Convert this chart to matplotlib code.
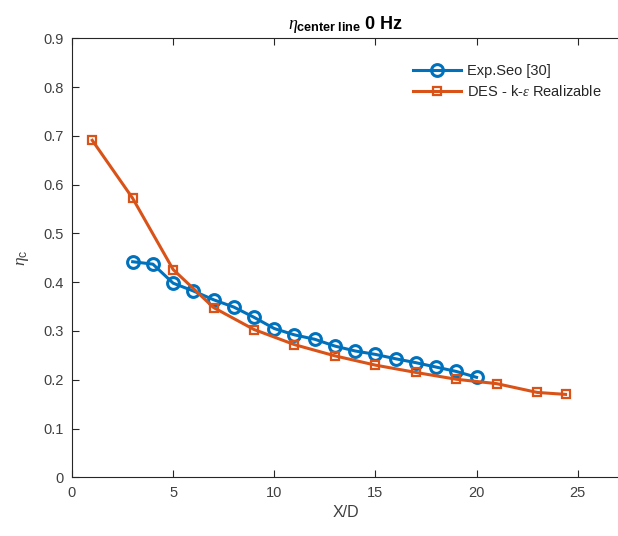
import matplotlib
matplotlib.use("Agg")
import matplotlib.pyplot as plt

plt.rcParams['font.family'] = ['Liberation Sans', 'DejaVu Sans']
plt.rcParams['mathtext.fontset'] = 'custom'
plt.rcParams['mathtext.rm'] = 'Liberation Sans'
plt.rcParams['mathtext.it'] = 'Liberation Serif:italic'
plt.rcParams['mathtext.bf'] = 'Liberation Sans:bold'

# Experimental centre-line efficiency
exp_x = [3, 4, 5, 6, 7, 8, 9, 10, 11, 12, 13, 14, 15, 16, 17, 18, 19, 20]
exp_eta = [0.442, 0.437, 0.398, 0.382, 0.364, 0.349, 0.328, 0.305, 0.292,
           0.283, 0.269, 0.259, 0.252, 0.243, 0.235, 0.226, 0.217, 0.205]

# DES k-epsilon realizable prediction
des_x = [1, 3, 5, 7, 9, 11, 13, 15, 17, 19, 21, 23, 24.4]
des_eta = [0.691, 0.572, 0.426, 0.348, 0.303, 0.272, 0.249, 0.230,
           0.215, 0.201, 0.192, 0.174, 0.170]

x_ticks = [0, 5, 10, 15, 20, 25]
y_ticks = [0, 0.1, 0.2, 0.3, 0.4, 0.5, 0.6, 0.7, 0.8, 0.9]

blue = '#0072BD'
orange = '#D95319'
axis_col = '#262626'

fig = plt.figure(figsize=(6.18, 5.36), dpi=100)
ax = fig.add_axes([0.1165, 0.1095, 0.887, 0.819])

ax.plot(exp_x, exp_eta, '-o', color=blue, lw=2.2, ms=8.5, mew=2.2,
        mfc='none', label='Exp.Seo [30]')
ax.plot(des_x, des_eta, '-s', color=orange, lw=2.2, ms=6, mew=1.6,
        mfc='none', label=r'DES - k-$\epsilon$ Realizable')

ax.set_xlim(0, 27.1)
ax.set_ylim(0, 0.9)
ax.set_xticks(x_ticks)
ax.set_yticks(y_ticks)
ax.set_yticklabels(['0', '0.1', '0.2', '0.3', '0.4', '0.5', '0.6', '0.7', '0.8', '0.9'])
ax.tick_params(direction='in', length=5, width=0.8, colors=axis_col,
               labelcolor='#404040', labelsize=10.5, top=True, right=False,
               pad=6)
for s in ax.spines.values():
    s.set_color(axis_col)
    s.set_linewidth(0.8)
ax.spines['right'].set_visible(False)

ax.set_xlabel('X/D', fontsize=11.5, color='#404040', labelpad=4)
ax.set_ylabel(r'$\eta_\mathrm{c}$', fontsize=12.5, color='#404040', labelpad=9)
ax.set_title(r'$\eta_{\mathbf{center\ line}}$ 0 Hz', fontsize=13,
             fontweight='bold', color='black', pad=7)

leg = ax.legend(loc='upper right', bbox_to_anchor=(0.985, 0.965),
                frameon=False, fontsize=10.5, handlelength=3.3,
                handletextpad=0.4, labelspacing=0.45, borderaxespad=0.3)
for t in leg.get_texts():
    t.set_color('#262626')

fig.savefig('out.png', dpi=100)
